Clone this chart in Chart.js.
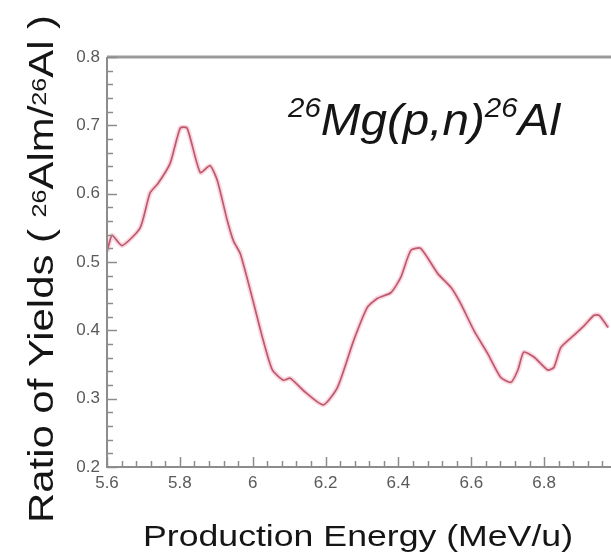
<!DOCTYPE html>
<html>
<head>
<meta charset="utf-8">
<script src="https://cdn.jsdelivr.net/npm/chart.js@4/dist/chart.umd.min.js"></script>
<style>
  html, body { margin: 0; padding: 0; background: #fff; overflow: hidden; }
  #wrap { width: 630px; height: 560px; position: relative; }
</style>
</head>
<body>
<div id="wrap"><canvas id="c" width="630" height="560"></canvas></div>
<script>
// Isomeric yield ratio 26Al(m)/26Al versus production energy
const energies = [5.600, 5.614, 5.641, 5.691, 5.718, 5.740, 5.773, 5.801, 5.820, 5.856,
                  5.883, 5.903, 5.930, 5.947, 5.966, 5.999, 6.029, 6.054, 6.084, 6.103,
                  6.139, 6.194, 6.233, 6.277, 6.315, 6.343, 6.379, 6.406, 6.434, 6.461,
                  6.508, 6.544, 6.571, 6.607, 6.645, 6.681, 6.709, 6.728, 6.744, 6.772,
                  6.810, 6.827, 6.846, 6.882, 6.910, 6.937, 6.951, 6.976];
const ratios   = [0.515, 0.539, 0.524, 0.550, 0.601, 0.615, 0.644, 0.696, 0.696, 0.631,
                  0.641, 0.619, 0.561, 0.531, 0.512, 0.447, 0.385, 0.342, 0.327, 0.330,
                  0.312, 0.291, 0.317, 0.385, 0.434, 0.447, 0.455, 0.477, 0.517, 0.520,
                  0.483, 0.463, 0.439, 0.400, 0.366, 0.331, 0.324, 0.342, 0.368, 0.361,
                  0.342, 0.346, 0.375, 0.393, 0.407, 0.422, 0.422, 0.404];
const xTickValues = [5.6, 5.8, 6.0, 6.2, 6.4, 6.6, 6.8];
const yTickValues = [0.2, 0.3, 0.4, 0.5, 0.6, 0.7, 0.8];
const xTitle = [{ t: 'Production Energy (MeV/u)' }];
const yTitle = [{ t: 'Ratio of Yields ( ' }, { t: '26', sup: true }, { t: 'Alm/' },
                { t: '26', sup: true }, { t: 'Al )' }];
const reaction = [{ t: '26', sup: true }, { t: 'Mg(p,n)' }, { t: '26', sup: true }, { t: 'Al' }];

const FONT = '"Liberation Sans", Arial, sans-serif';

// Rich text line with superscripts, stretched to a given length
function drawRich(ctx, segs, o) {
  const f = (sz) => (o.italic ? 'italic ' : '') + sz + 'px ' + FONT;
  let w = 0;
  segs.forEach(s => {
    ctx.font = f(s.sup ? o.size * o.supScale : o.size);
    w += ctx.measureText(s.t).width;
  });
  const sx = o.length / w;
  ctx.save();
  ctx.translate(o.x, o.y);
  ctx.rotate(o.angle || 0);
  ctx.scale(sx, 1);
  ctx.fillStyle = o.color;
  ctx.textBaseline = 'alphabetic';
  ctx.textAlign = 'left';
  let cx = 0;
  segs.forEach(s => {
    ctx.font = f(s.sup ? o.size * o.supScale : o.size);
    ctx.fillText(s.t, cx, s.sup ? -o.supRise : 0);
    cx += ctx.measureText(s.t).width;
  });
  ctx.restore();
}

const framePlugin = {
  id: 'frame',
  afterDraw(chart) {
    const { ctx, chartArea: a, scales: { x, y } } = chart;
    ctx.save();
    // axis frame
    ctx.strokeStyle = '#9a9a9a';
    ctx.lineWidth = 3;
    ctx.beginPath(); ctx.moveTo(a.left, a.top); ctx.lineTo(a.right + 5, a.top); ctx.stroke();
    ctx.strokeStyle = '#8c8c8c';
    ctx.lineWidth = 2;
    ctx.beginPath(); ctx.moveTo(a.left, a.top); ctx.lineTo(a.left, a.bottom); ctx.lineTo(a.right + 5, a.bottom); ctx.stroke();
    // inward tick marks
    ctx.lineWidth = 1.5;
    ctx.strokeStyle = '#8c8c8c';
    for (let i = 0; i <= 30; i++) {
      const v = 0.2 + i * 0.02;
      const py = Math.round(y.getPixelForValue(v)) + 0.5;
      const len = (i % 5 === 0) ? 10 : 6;
      ctx.beginPath(); ctx.moveTo(a.left, py); ctx.lineTo(a.left + len, py); ctx.stroke();
    }
    for (let i = 0; i <= 35; i++) {
      const v = 5.6 + i * 0.04;
      const px = Math.round(x.getPixelForValue(v)) + 0.5;
      const len = (i % 5 === 0) ? 10 : 6;
      ctx.beginPath(); ctx.moveTo(px, a.bottom); ctx.lineTo(px, a.bottom - len); ctx.stroke();
    }
    ctx.restore();

    // titles and reaction label
    drawRich(ctx, yTitle, { x: 53, y: 523, angle: -Math.PI / 2, size: 35, supScale: 0.6,
                            supRise: 7, length: 508, color: '#151515' });
    drawRich(ctx, xTitle, { x: 143, y: 546, size: 30, supScale: 0.6, supRise: 0,
                            length: 430, color: '#151515' });
    drawRich(ctx, reaction, { x: 288, y: 135, size: 44, italic: true, supScale: 0.62,
                              supRise: 18, length: 272, color: '#151515' });
  }
};

new Chart(document.getElementById('c'), {
  type: 'line',
  data: {
    datasets: [
      {
        data: energies.map((e, i) => ({ x: e, y: ratios[i] })),
        borderColor: 'rgba(240,140,165,0.35)',
        borderWidth: 5,
        pointRadius: 0,
        tension: 0.2,
        fill: false
      },
      {
        data: energies.map((e, i) => ({ x: e, y: ratios[i] })),
        borderColor: '#a23e4e',
        borderWidth: 1.7,
        pointRadius: 0,
        tension: 0.2,
        fill: false
      }
    ]
  },
  options: {
    responsive: false,
    animation: false,
    layout: { padding: { left: 0, top: 57, right: 13, bottom: 0 } },
    plugins: { legend: { display: false }, tooltip: { enabled: false } },
    scales: {
      x: {
        type: 'linear',
        min: 5.6,
        max: 7.0,
        grid: { display: false, drawTicks: false },
        border: { display: false },
        afterBuildTicks: s => { s.ticks = xTickValues.map(v => ({ value: v })); },
        afterFit: s => { s.height = 93; },
        ticks: {
          padding: 6,
          color: '#5a5a5a',
          font: { family: FONT, size: 17 },
          maxRotation: 0,
          autoSkip: false,
          callback: v => String(Math.round(v * 10) / 10)
        }
      },
      y: {
        min: 0.2,
        max: 0.8,
        grid: { display: false, drawTicks: false },
        border: { display: false },
        afterBuildTicks: s => { s.ticks = yTickValues.map(v => ({ value: v })); },
        afterFit: s => { s.width = 107; },
        ticks: {
          padding: 7,
          color: '#5a5a5a',
          font: { family: FONT, size: 17 },
          autoSkip: false,
          callback: v => (Math.round(v * 10) / 10).toFixed(1)
        }
      }
    }
  },
  plugins: [framePlugin]
});
</script>
</body>
</html>
